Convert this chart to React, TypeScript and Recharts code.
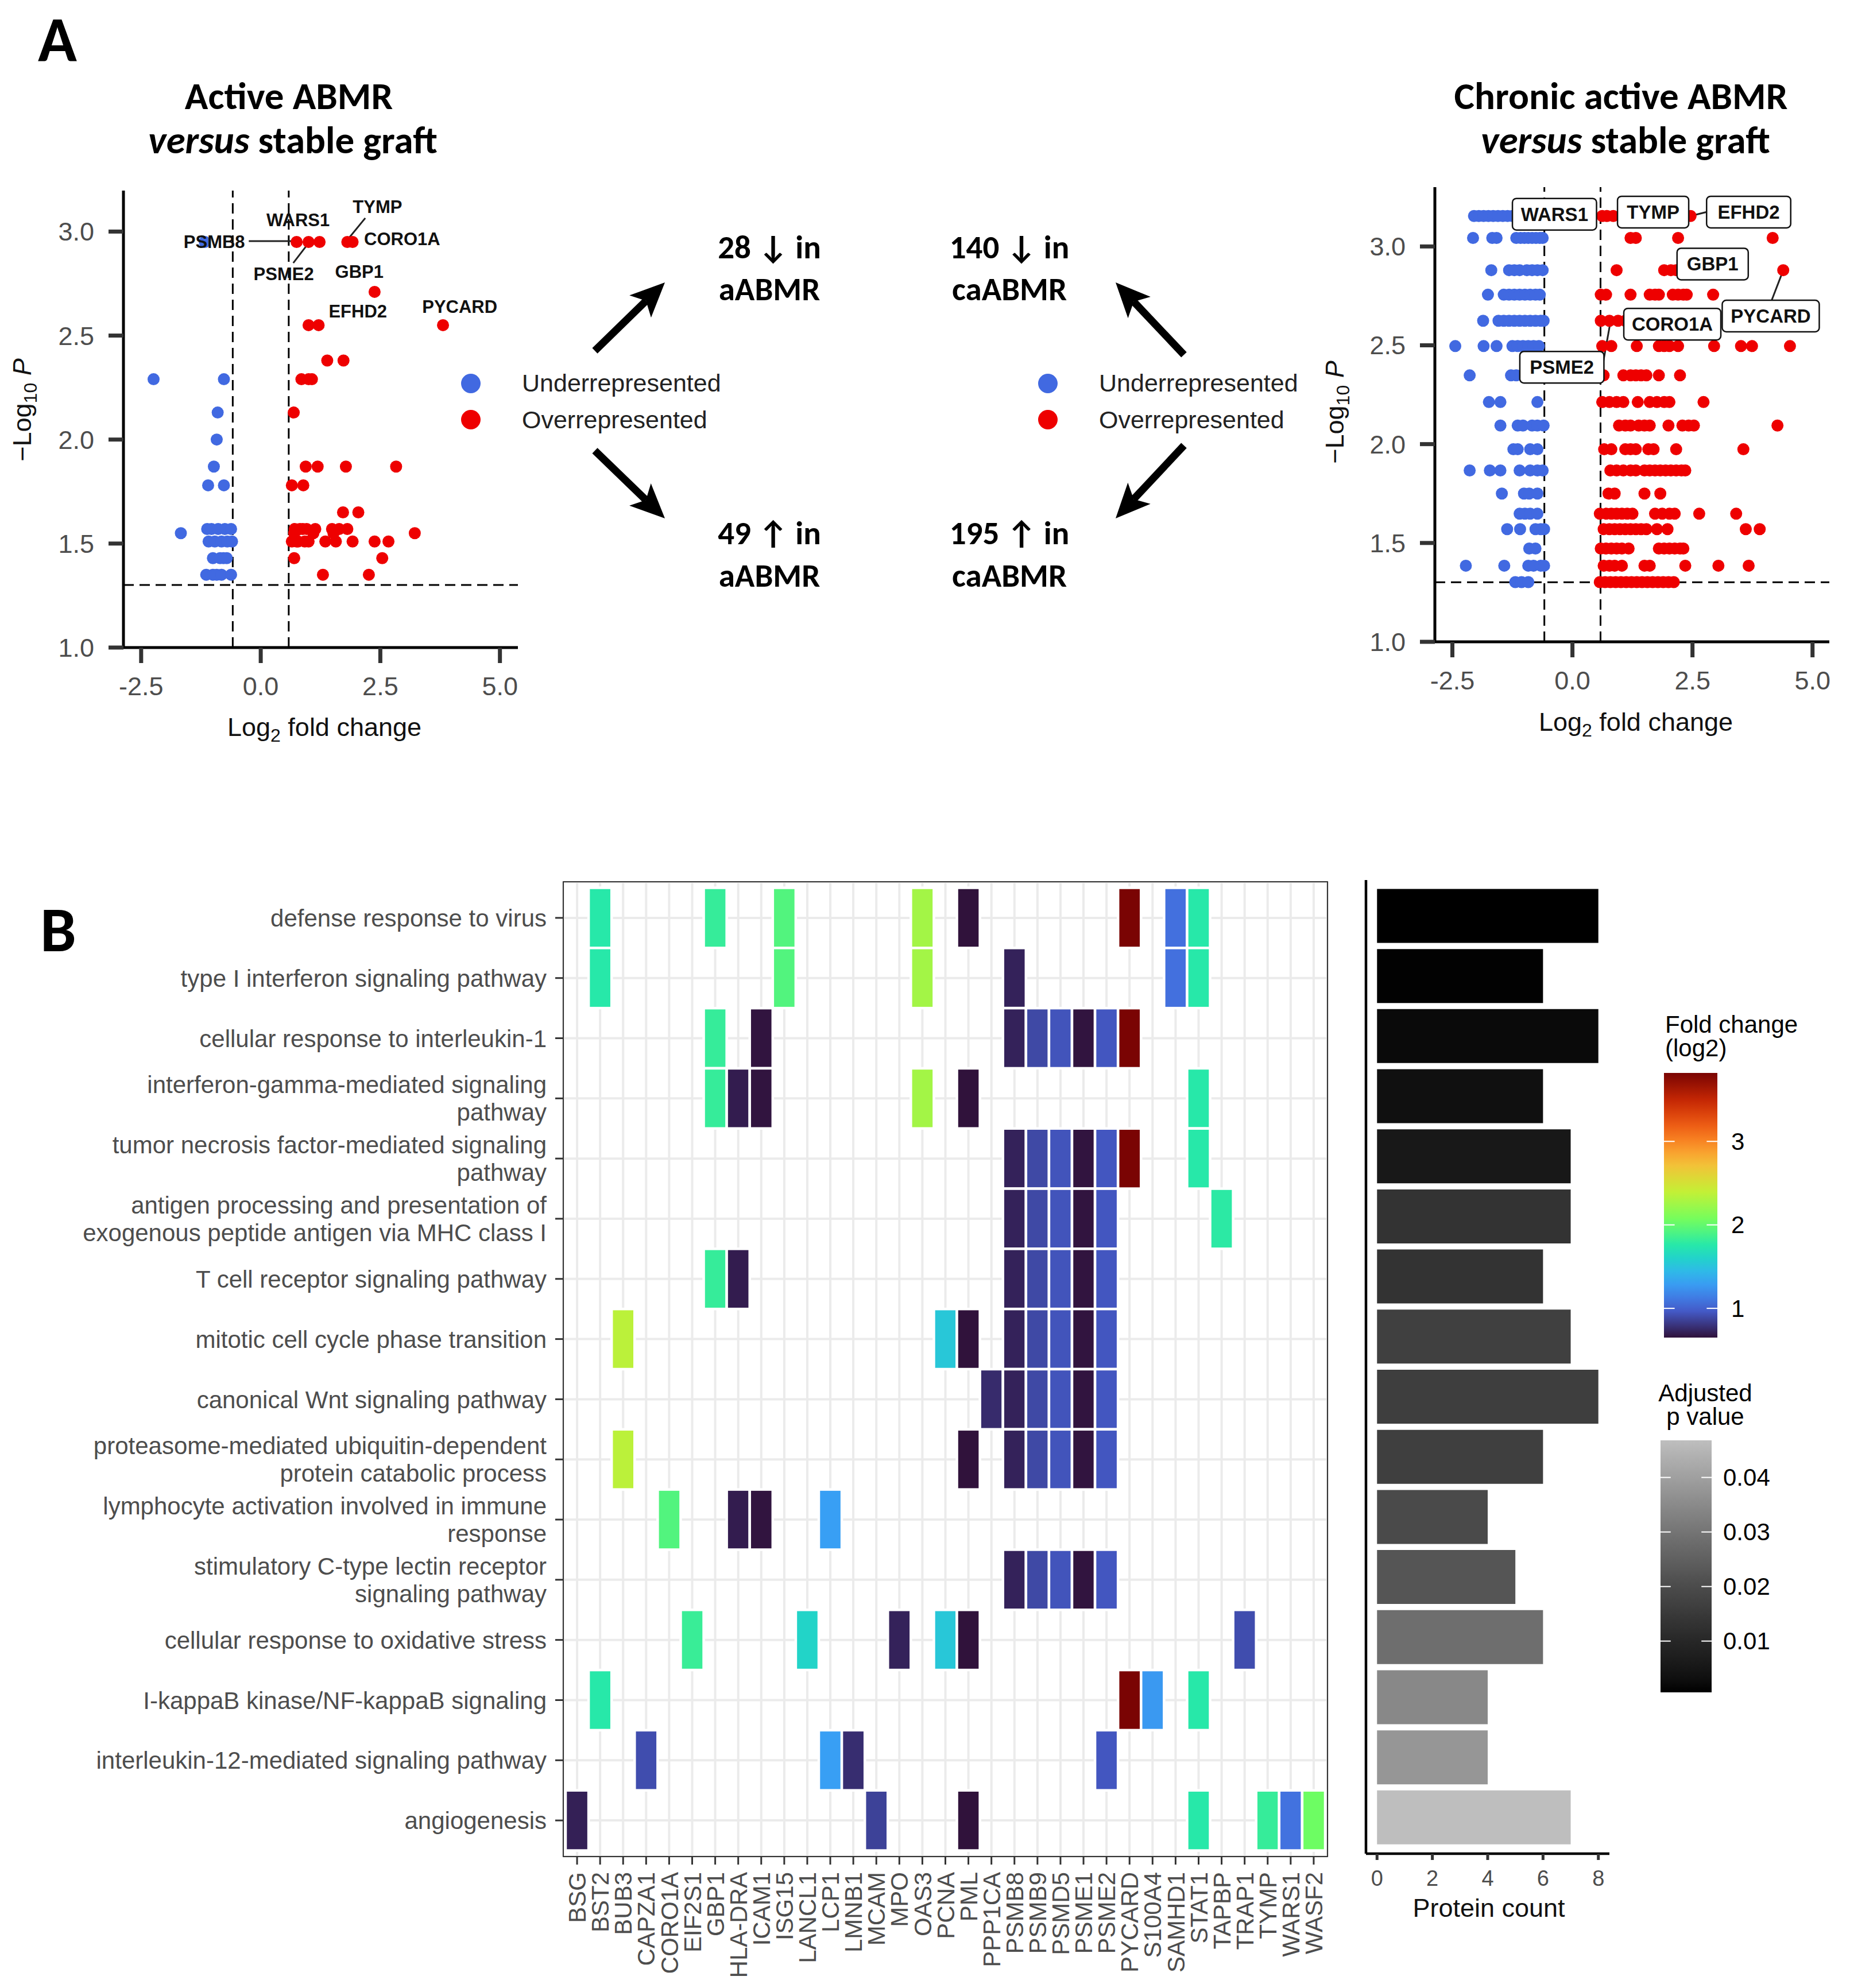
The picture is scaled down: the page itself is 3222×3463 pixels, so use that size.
import React from "react";
import {
  ScatterChart,
  Scatter,
  XAxis,
  YAxis,
  ReferenceLine,
  CartesianGrid,
  BarChart,
  Bar,
  Cell,
} from "recharts";

const SANS = "'Liberation Sans', Arial, Helvetica, sans-serif";
const HEAD = "Carlito, Lato, 'Open Sans', sans-serif";
const BLUE = "#4169E1";
const RED = "#EE0000";

// ---------- Panel A, left: active ABMR versus stable graft ----------
// [log2 fold change, -log10 P]
const AABMR_UNDER: [number, number][] = [
  [-1.17, 2.95], [-2.24, 2.29], [-0.77, 2.29], [-0.9, 2.13], [-0.92, 2.0],
  [-0.98, 1.87], [-1.1, 1.78], [-0.77, 1.78], [-1.67, 1.55], [-1.12, 1.57],
  [-1.03, 1.57], [-0.89, 1.57], [-0.75, 1.57], [-0.62, 1.57], [-1.09, 1.51],
  [-0.96, 1.51], [-0.82, 1.51], [-0.7, 1.51], [-0.6, 1.51], [-1.0, 1.43],
  [-0.85, 1.43], [-0.78, 1.43], [-0.71, 1.43], [-1.14, 1.35], [-1.0, 1.35],
  [-0.92, 1.35], [-0.82, 1.35], [-0.62, 1.35],
];
const AABMR_OVER: [number, number][] = [
  [0.75, 2.95], [1.0, 2.95], [1.23, 2.95], [1.81, 2.95], [1.92, 2.95],
  [2.38, 2.71], [1.0, 2.55], [1.21, 2.55], [3.81, 2.55], [1.39, 2.38],
  [1.73, 2.38], [0.85, 2.29], [1.0, 2.29], [1.07, 2.29], [0.69, 2.13],
  [0.94, 1.87], [1.19, 1.87], [1.78, 1.87], [2.83, 1.87], [0.65, 1.78],
  [0.89, 1.78], [1.72, 1.65], [2.04, 1.65], [3.22, 1.55], [0.71, 1.57],
  [0.82, 1.57], [0.88, 1.57], [0.96, 1.57], [1.14, 1.57], [1.49, 1.57],
  [1.64, 1.57], [1.81, 1.57], [0.7, 1.55], [1.1, 1.55], [1.52, 1.55],
  [0.65, 1.51], [0.75, 1.51], [0.78, 1.51], [0.92, 1.51], [1.0, 1.51],
  [1.35, 1.51], [1.57, 1.51], [1.92, 1.51], [2.38, 1.51], [2.67, 1.51],
  [0.7, 1.43], [2.54, 1.43], [1.3, 1.35], [2.26, 1.35],
];
const AABMR_LABELS = [
  { gene: "WARS1", x: 0.78, y: 3.056, anchor: "middle" },
  { gene: "TYMP", x: 2.44, y: 3.118, anchor: "middle" },
  { gene: "PSMB8", x: -0.33, y: 2.95, anchor: "end" },
  { gene: "CORO1A", x: 2.16, y: 2.963, anchor: "start" },
  { gene: "PSME2", x: 0.48, y: 2.796, anchor: "middle" },
  { gene: "GBP1", x: 2.06, y: 2.806, anchor: "middle" },
  { gene: "EFHD2", x: 2.03, y: 2.616, anchor: "middle" },
  { gene: "PYCARD", x: 4.16, y: 2.637, anchor: "middle" },
];
const AABMR_LEADERS: [number, number, number, number][] = [
  [-0.25, 2.954, 0.69, 2.954],
  [2.185, 3.065, 1.83, 2.965],
  [0.68, 2.849, 1.0, 2.945],
];

// ---------- Panel A, right: chronic active ABMR versus stable graft ----------
// rows of [-log10 P, log2 fold changes]
const CAABMR_UNDER_ROWS: [number, number[]][] = [
  [3.154, [-2.05, -1.95, -1.85, -1.75, -1.65, -1.55, -1.45, -1.35, -1.25, -1.15, -1.05, -0.95, -0.85, -0.75, -0.65]],
  [3.043, [-2.07, -1.67, -1.58, -1.17, -1.08, -1.0, -0.92, -0.84, -0.76, -0.68, -0.62]],
  [2.88, [-1.69, -1.32, -1.21, -1.1, -0.95, -0.84, -0.73, -0.62]],
  [2.756, [-1.76, -1.43, -1.32, -1.21, -1.1, -0.99, -0.88, -0.77, -0.68]],
  [2.624, [-1.86, -1.54, -1.43, -1.32, -1.21, -1.1, -0.99, -0.88, -0.77, -0.66, -0.6]],
  [2.496, [-2.44, -1.85, -1.58, -1.25, -1.14, -1.03, -0.92, -0.81, -0.7]],
  [2.348, [-2.14, -1.28, -1.17, -1.0, -0.8]],
  [2.213, [-1.74, -1.5, -0.73]],
  [2.094, [-1.5, -1.14, -1.03, -0.84, -0.73, -0.6]],
  [1.974, [-1.23, -1.14, -0.88, -0.73]],
  [1.867, [-2.14, -1.72, -1.5, -1.1, -0.88, -0.73, -0.62]],
  [1.75, [-1.47, -1.01, -0.9, -0.73]],
  [1.648, [-1.1, -0.99, -0.88, -0.73]],
  [1.57, [-1.36, -1.09, -0.77, -0.66, -0.59]],
  [1.472, [-0.9, -0.77]],
  [1.385, [-2.22, -1.42, -0.92, -0.81, -0.66, -0.59]],
  [1.302, [-1.19, -1.06, -0.92]],
];
const CAABMR_OVER_ROWS: [number, number[]][] = [
  [3.154, [0.62, 0.72, 0.85, 1.0, 1.2, 1.45, 1.7, 1.95, 2.2, 2.46]],
  [3.043, [1.21, 1.32, 2.2, 4.17]],
  [2.88, [0.92, 1.91, 2.05, 2.16, 4.39]],
  [2.756, [0.59, 0.7, 1.21, 1.61, 1.72, 1.8, 2.09, 2.2, 2.31, 2.38, 2.93]],
  [2.624, [0.59, 0.77, 0.95, 1.1, 1.3, 1.5, 1.7, 1.9, 2.1]],
  [2.496, [0.62, 0.81, 1.34, 1.8, 1.91, 2.02, 2.2, 2.95, 3.51, 3.74, 4.53]],
  [2.348, [0.65, 1.06, 1.21, 1.32, 1.43, 1.54, 1.8, 2.24]],
  [2.213, [0.62, 0.77, 0.92, 1.06, 1.36, 1.61, 1.76, 1.91, 2.02, 2.73]],
  [2.094, [0.97, 1.1, 1.21, 1.38, 1.5, 1.61, 2.0, 2.29, 2.42, 2.53, 4.27]],
  [1.974, [0.66, 0.81, 1.1, 1.21, 1.32, 1.58, 1.69, 2.16, 3.56]],
  [1.867, [0.79, 0.92, 1.06, 1.21, 1.32, 1.5, 1.61, 1.72, 1.83, 1.94, 2.05, 2.16, 2.27, 2.35]],
  [1.75, [0.75, 0.88, 1.5, 1.83]],
  [1.648, [0.57, 0.7, 0.81, 0.92, 1.03, 1.14, 1.25, 1.72, 1.87, 2.02, 2.13, 2.64, 3.41]],
  [1.57, [0.65, 0.77, 0.88, 0.99, 1.1, 1.21, 1.32, 1.43, 1.54, 1.76, 1.98, 3.61, 3.9]],
  [1.472, [0.59, 0.7, 0.81, 0.92, 1.03, 1.17, 1.8, 1.91, 2.02, 2.13, 2.24, 2.31]],
  [1.385, [0.65, 0.77, 0.88, 1.03, 1.5, 1.61, 2.35, 3.04, 3.67]],
  [1.302, [0.57, 0.68, 0.79, 0.9, 1.01, 1.12, 1.23, 1.34, 1.45, 1.56, 1.67, 1.78, 1.89, 2.0, 2.11]],
];
const CAABMR_LABELS = [
  { gene: "WARS1", x: -0.374, y: 3.163 },
  { gene: "TYMP", x: 1.68, y: 3.174 },
  { gene: "EFHD2", x: 3.67, y: 3.174 },
  { gene: "GBP1", x: 2.92, y: 2.911 },
  { gene: "PYCARD", x: 4.13, y: 2.648 },
  { gene: "CORO1A", x: 2.08, y: 2.607 },
  { gene: "PSME2", x: -0.22, y: 2.389 },
];
const CAABMR_LEADERS: [number, number, number, number][] = [
  [0.51, 3.157, 0.68, 3.154],
  [0.94, 3.157, 0.6, 3.154],
  [2.82, 3.176, 2.46, 3.154],
  [4.15, 2.728, 4.37, 2.867],
  [0.64, 2.413, 0.79, 2.617],
];

const FC_CUTOFF = 0.585;
const P_CUTOFF = 1.301;
const VOLCANO_X_TICKS = [-2.5, 0, 2.5, 5];
const VOLCANO_Y_TICKS = [1, 1.5, 2, 2.5, 3];

// ---------- Panel B ----------
const PATHWAYS = [
  "defense response to virus",
  "type I interferon signaling pathway",
  "cellular response to interleukin-1",
  "interferon-gamma-mediated signaling\npathway",
  "tumor necrosis factor-mediated signaling\npathway",
  "antigen processing and presentation of\nexogenous peptide antigen via MHC class I",
  "T cell receptor signaling pathway",
  "mitotic cell cycle phase transition",
  "canonical Wnt signaling pathway",
  "proteasome-mediated ubiquitin-dependent\nprotein catabolic process",
  "lymphocyte activation involved in immune\nresponse",
  "stimulatory C-type lectin receptor\nsignaling pathway",
  "cellular response to oxidative stress",
  "I-kappaB kinase/NF-kappaB signaling",
  "interleukin-12-mediated signaling pathway",
  "angiogenesis",
];
const GENES = [
  "BSG", "BST2", "BUB3", "CAPZA1", "CORO1A", "EIF2S1", "GBP1", "HLA-DRA", "ICAM1",
  "ISG15", "LANCL1", "LCP1", "LMNB1", "MCAM", "MPO", "OAS3", "PCNA", "PML", "PPP1CA",
  "PSMB8", "PSMB9", "PSMD5", "PSME1", "PSME2", "PYCARD", "S100A4", "SAMHD1", "STAT1",
  "TAPBP", "TRAP1", "TYMP", "WARS1", "WASF2",
];
const GENE_FC = [
  0.71, 1.76, 2.36, 0.91, 1.93, 1.83, 1.82, 0.695, 0.66,
  1.93, 1.61, 1.3, 0.77, 0.86, 0.72, 2.26, 1.53, 0.65, 0.76,
  0.72, 0.89, 0.94, 0.66, 0.95, 3.82, 1.27, 1.07, 1.76,
  1.78, 0.91, 1.82, 1.08, 2.04,
];
const PATHWAY_GENES = [
  ["BST2", "GBP1", "ISG15", "OAS3", "PML", "PYCARD", "SAMHD1", "STAT1"],
  ["BST2", "ISG15", "OAS3", "PSMB8", "SAMHD1", "STAT1"],
  ["GBP1", "ICAM1", "PSMB8", "PSMB9", "PSMD5", "PSME1", "PSME2", "PYCARD"],
  ["GBP1", "HLA-DRA", "ICAM1", "OAS3", "PML", "STAT1"],
  ["PSMB8", "PSMB9", "PSMD5", "PSME1", "PSME2", "PYCARD", "STAT1"],
  ["PSMB8", "PSMB9", "PSMD5", "PSME1", "PSME2", "TAPBP"],
  ["GBP1", "HLA-DRA", "PSMB8", "PSMB9", "PSMD5", "PSME1", "PSME2"],
  ["BUB3", "PCNA", "PML", "PSMB8", "PSMB9", "PSMD5", "PSME1", "PSME2"],
  ["PPP1CA", "PSMB8", "PSMB9", "PSMD5", "PSME1", "PSME2"],
  ["BUB3", "PML", "PSMB8", "PSMB9", "PSMD5", "PSME1", "PSME2"],
  ["CORO1A", "HLA-DRA", "ICAM1", "LCP1"],
  ["PSMB8", "PSMB9", "PSMD5", "PSME1", "PSME2"],
  ["EIF2S1", "LANCL1", "MPO", "PCNA", "PML", "TRAP1"],
  ["BST2", "PYCARD", "S100A4", "STAT1"],
  ["CAPZA1", "LCP1", "LMNB1", "PSME2"],
  ["BSG", "MCAM", "PML", "STAT1", "TYMP", "WARS1", "WASF2"],
];
const PROTEIN_COUNT = [8, 6, 8, 6, 7, 7, 6, 7, 8, 6, 4, 5, 6, 4, 4, 7];
const ADJ_P = [
  0.0006, 0.0009, 0.0023, 0.0033, 0.0056, 0.0134, 0.0134, 0.0169,
  0.0163, 0.0166, 0.0195, 0.0223, 0.0285, 0.0346, 0.0379, 0.0468,
];
const FC_LEGEND_TICKS = [1, 2, 3];
const P_LEGEND_TICKS = [0.01, 0.02, 0.03, 0.04];
const COUNT_TICKS = [0, 2, 4, 6, 8];

// ---------- colour scales ----------
const TURBO = [
  [48, 18, 59], [70, 98, 215], [54, 170, 249], [26, 228, 182], [114, 254, 94],
  [199, 239, 52], [250, 186, 57], [246, 107, 25], [203, 42, 4], [122, 4, 3],
];
function turbo(t: number) {
  const c = Math.max(0, Math.min(1, t)) * (TURBO.length - 1);
  const i = Math.min(TURBO.length - 2, Math.floor(c));
  const f = c - i;
  const m = (k: number) => Math.round(TURBO[i][k] + (TURBO[i + 1][k] - TURBO[i][k]) * f);
  return `rgb(${m(0)},${m(1)},${m(2)})`;
}
const FC_MIN = Math.min(...GENE_FC);
const FC_MAX = Math.max(...GENE_FC);
const fcColor = (v: number) => turbo((v - FC_MIN) / (FC_MAX - FC_MIN));

function grayToL(g: number) {
  const v = g / 255;
  const Y = v <= 0.04045 ? v / 12.92 : Math.pow((v + 0.055) / 1.055, 2.4);
  return Y > 0.008856 ? 116 * Math.cbrt(Y) - 16 : 903.3 * Y;
}
function lToGray(L: number) {
  const Y = L > 8 ? Math.pow((L + 16) / 116, 3) : L / 903.3;
  const v = Y <= 0.0031308 ? 12.92 * Y : 1.055 * Math.pow(Y, 1 / 2.4) - 0.055;
  const g = Math.round(255 * Math.max(0, Math.min(1, v)));
  return `rgb(${g},${g},${g})`;
}
const L_HIGH = grayToL(190);
const P_MIN = Math.min(...ADJ_P);
const P_MAX = Math.max(...ADJ_P);
const pColor = (p: number) => lToGray(((p - P_MIN) / (P_MAX - P_MIN)) * L_HIGH);

// ---------- shared pieces ----------
const dot = (fill: string) => (p: any) => <circle cx={p.cx} cy={p.cy} r={10.5} fill={fill} />;

function PlainLabel(p: any) {
  const d = p.payload;
  return (
    <text x={p.cx} y={p.cy} textAnchor={d.anchor} dominantBaseline="central" fontFamily={SANS} fontWeight={700} fontSize={31} fill="#111">
      {d.gene}
    </text>
  );
}

function BoxLabel(p: any) {
  const d = p.payload;
  const w = d.gene.length * 22.5 + 34;
  const h = 55;
  return (
    <g>
      <rect x={p.cx - w / 2} y={p.cy - h / 2} width={w} height={h} rx={7} fill="#fff" stroke="#111" strokeWidth={2.5} />
      <text x={p.cx} y={p.cy} textAnchor="middle" dominantBaseline="central" fontFamily={SANS} fontWeight={700} fontSize={33} fill="#111">
        {d.gene}
      </text>
    </g>
  );
}

type Pt = { x: number; y: number };

function Volcano(props: {
  under: Pt[];
  over: Pt[];
  labels: any[];
  leaders: [number, number, number, number][];
  boxed: boolean;
  xDomain: [number, number];
  yDomain: [number, number];
  plotH: number;
}) {
  const { under, over, labels, leaders, boxed, xDomain, yDomain, plotH } = props;
  const dash = { stroke: "#000", strokeWidth: 3, strokeDasharray: "18 10" };
  return (
    <ScatterChart width={912} height={32 + plotH + 100} margin={{ top: 32, right: 10, bottom: 0, left: 0 }}>
      <XAxis
        type="number"
        dataKey="x"
        domain={xDomain}
        allowDataOverflow
        ticks={VOLCANO_X_TICKS}
        interval={0}
        tickFormatter={(v: number) => v.toFixed(1)}
        height={100}
        tickSize={27}
        tickMargin={24}
        axisLine={{ stroke: "#000", strokeWidth: 5 }}
        tickLine={{ stroke: "#333", strokeWidth: 7 }}
        tick={{ fill: "#4d4d4d", fontSize: 45, fontFamily: SANS }}
      />
      <YAxis
        type="number"
        dataKey="y"
        domain={yDomain}
        allowDataOverflow
        ticks={VOLCANO_Y_TICKS}
        interval={0}
        tickFormatter={(v: number) => v.toFixed(1)}
        width={215}
        tickSize={26}
        tickMargin={25}
        axisLine={{ stroke: "#000", strokeWidth: 5 }}
        tickLine={{ stroke: "#333", strokeWidth: 7 }}
        tick={{ fill: "#4d4d4d", fontSize: 45, fontFamily: SANS }}
      />
      <ReferenceLine x={-FC_CUTOFF} {...dash} />
      <ReferenceLine x={FC_CUTOFF} {...dash} />
      <ReferenceLine y={P_CUTOFF} {...dash} />
      <Scatter data={under} shape={dot(BLUE)} isAnimationActive={false} />
      <Scatter data={over} shape={dot(RED)} isAnimationActive={false} />
      {leaders.map((s, i) => (
        <ReferenceLine
          key={i}
          segment={[{ x: s[0], y: s[1] }, { x: s[2], y: s[3] }]}
          stroke="#222"
          strokeWidth={3}
        />
      ))}
      <Scatter data={labels} shape={boxed ? BoxLabel : PlainLabel} isAnimationActive={false} />
    </ScatterChart>
  );
}

// heatmap geometry (plot area 1331 x 1698, ggplot-style 0.6 expansion)
const HM_W = 1331;
const HM_H = 1698;
const CELL_W = HM_W / (GENES.length + 0.2);
const CELL_H = HM_H / (PATHWAYS.length + 0.2);

function Tile(p: any) {
  return (
    <rect
      x={p.cx - CELL_W / 2}
      y={p.cy - CELL_H / 2}
      width={CELL_W}
      height={CELL_H}
      fill={fcColor(p.payload.fc)}
      stroke="#fff"
      strokeWidth={4.5}
    />
  );
}

function PathwayTick(p: any) {
  const lines = PATHWAYS[p.payload.value - 1].split("\n");
  const lh = 48;
  const y0 = p.y - ((lines.length - 1) * lh) / 2;
  return (
    <text textAnchor="end" fontFamily={SANS} fontSize={42} fill="#4d4d4d">
      {lines.map((l, i) => (
        <tspan key={i} x={p.x} y={y0 + i * lh} dy="0.36em">
          {l}
        </tspan>
      ))}
    </text>
  );
}

function GeneTick(p: any) {
  return (
    <text transform={`translate(${p.x},${p.y}) rotate(-90)`} textAnchor="end" dy="0.36em" fontFamily={SANS} fontSize={42} fill="#4d4d4d">
      {GENES[p.payload.value - 1]}
    </text>
  );
}

function Arrow({ x1, y1, x2, y2 }: { x1: number; y1: number; x2: number; y2: number }) {
  const len = Math.hypot(x2 - x1, y2 - y1);
  const ux = (x2 - x1) / len;
  const uy = (y2 - y1) / len;
  const hl = 60;
  const hw = 27;
  const bx = x2 - ux * hl;
  const by = y2 - uy * hl;
  const nx = bx + ux * 14;
  const ny = by + uy * 14;
  return (
    <g>
      <line x1={x1} y1={y1} x2={nx} y2={ny} stroke="#000" strokeWidth={13} />
      <polygon points={`${x2},${y2} ${bx - uy * hw},${by + ux * hw} ${nx},${ny} ${bx + uy * hw},${by - ux * hw}`} fill="#000" />
    </g>
  );
}

export default function App() {
  const aUnder = AABMR_UNDER.map(([x, y]) => ({ x, y }));
  const aOver = AABMR_OVER.map(([x, y]) => ({ x, y }));
  const caUnder = CAABMR_UNDER_ROWS.flatMap(([y, xs]) => xs.map((x) => ({ x, y })));
  const caOver = CAABMR_OVER_ROWS.flatMap(([y, xs]) => xs.map((x) => ({ x, y })));

  const tiles = PATHWAY_GENES.flatMap((genes, r) =>
    genes.map((g) => {
      const c = GENES.indexOf(g);
      return { row: r + 1, col: c + 1, fc: GENE_FC[c] };
    })
  );
  const barData = PATHWAYS.map((name, i) => ({ name, count: PROTEIN_COUNT[i], p: ADJ_P[i] }));

  // legend colour bars
  const fcBar = { x: 2898, y: 1869, w: 93, h: 461 };
  const pBar = { x: 2892, y: 2509, w: 89, h: 439 };
  const fcY = (v: number) => fcBar.y + fcBar.h * (1 - (v - FC_MIN) / (FC_MAX - FC_MIN));
  const pY = (v: number) => pBar.y + pBar.h * (1 - (v - P_MIN) / (P_MAX - P_MIN));
  const steps = Array.from({ length: 21 }, (_, i) => i / 20);

  const headText = { fontFamily: HEAD, fontWeight: 700, fill: "#000" } as const;
  const legText = { fontFamily: SANS, fontSize: 43, fill: "#222" } as const;

  return (
    <div style={{ position: "absolute", left: 0, top: 0, width: 3222, height: 3463, background: "#fff", overflow: "hidden" }}>
      <div style={{ position: "absolute", left: 0, top: 300 }}>
        <Volcano
          under={aUnder}
          over={aOver}
          labels={AABMR_LABELS}
          leaders={AABMR_LEADERS}
          boxed={false}
          xDomain={[-2.87, 5.376]}
          yDomain={[1, 3.197]}
          plotH={796}
        />
      </div>
      <div style={{ position: "absolute", left: 2284, top: 294 }}>
        <Volcano
          under={caUnder}
          over={caOver}
          labels={CAABMR_LABELS}
          leaders={CAABMR_LEADERS}
          boxed={true}
          xDomain={[-2.865, 5.35]}
          yDomain={[1, 3.3]}
          plotH={792}
        />
      </div>

      <div style={{ position: "absolute", left: 0, top: 1536 }}>
        <ScatterChart width={981 + HM_W + 10} height={HM_H + 227} margin={{ top: 0, right: 10, bottom: 0, left: 0 }}>
          <CartesianGrid stroke="#ebebeb" strokeWidth={4} />
          <XAxis
            type="number"
            dataKey="col"
            domain={[0.4, GENES.length + 0.6]}
            allowDataOverflow
            ticks={GENES.map((_, i) => i + 1)}
            interval={0}
            tick={GeneTick}
            height={227}
            tickSize={14}
            tickMargin={13}
            axisLine={false}
            tickLine={{ stroke: "#333", strokeWidth: 3 }}
          />
          <YAxis
            type="number"
            dataKey="row"
            domain={[0.4, PATHWAYS.length + 0.6]}
            allowDataOverflow
            reversed
            ticks={PATHWAYS.map((_, i) => i + 1)}
            interval={0}
            tick={PathwayTick}
            width={981}
            tickSize={14}
            tickMargin={15}
            axisLine={false}
            tickLine={{ stroke: "#333", strokeWidth: 3 }}
          />
          <Scatter data={tiles} shape={Tile} isAnimationActive={false} />
        </ScatterChart>
      </div>
      <div style={{ position: "absolute", left: 980, top: 1535, width: HM_W + 2, height: HM_H + 2, border: "2px solid #333", boxSizing: "border-box", pointerEvents: "none" }} />

      <div style={{ position: "absolute", left: 2349, top: 1528 }}>
        <BarChart layout="vertical" width={464} height={5 + 1696 + 120} data={barData} margin={{ top: 5, right: 10, bottom: 0, left: 0 }}>
          <XAxis
            type="number"
            domain={[-0.4, 8.4]}
            allowDataOverflow
            ticks={COUNT_TICKS}
            interval={0}
            height={120}
            tickSize={11}
            tickMargin={18}
            axisLine={{ stroke: "#000", strokeWidth: 4.5 }}
            tickLine={{ stroke: "#333", strokeWidth: 5 }}
            tick={{ fill: "#4d4d4d", fontSize: 38, fontFamily: SANS }}
          />
          <YAxis
            type="category"
            dataKey="name"
            width={30}
            tick={false}
            tickSize={12}
            padding={{ top: 1696 / 162, bottom: 1696 / 162 }}
            axisLine={{ stroke: "#000", strokeWidth: 4.5 }}
            tickLine={{ stroke: "#333", strokeWidth: 3 }}
          />
          <Bar dataKey="count" barSize={94} isAnimationActive={false}>
            {barData.map((d, i) => (
              <Cell key={i} fill={pColor(d.p)} />
            ))}
          </Bar>
        </BarChart>
      </div>

      <svg width={3222} height={3463} style={{ position: "absolute", left: 0, top: 0, pointerEvents: "none" }}>
        <defs>
          <linearGradient id="fcGrad" x1="0" y1="0" x2="0" y2="1">
            {steps.map((s) => (
              <stop key={s} offset={s} stopColor={turbo(1 - s)} />
            ))}
          </linearGradient>
          <linearGradient id="pGrad" x1="0" y1="0" x2="0" y2="1">
            {steps.map((s) => (
              <stop key={s} offset={s} stopColor={lToGray((1 - s) * L_HIGH)} />
            ))}
          </linearGradient>
        </defs>

        {/* panel letters and titles */}
        <text x={66} y={106} fontSize={112} {...headText}>A</text>
        <text x={70} y={1657} fontSize={112} {...headText}>B</text>
        <text x={503} y={190} fontSize={67} textAnchor="middle" {...headText}>Active ABMR</text>
        <text x={510} y={267} fontSize={67} textAnchor="middle" {...headText}>
          <tspan fontStyle="italic">versus</tspan> stable graft
        </text>
        <text x={2823} y={190} fontSize={67} textAnchor="middle" {...headText}>Chronic active ABMR</text>
        <text x={2831} y={267} fontSize={67} textAnchor="middle" {...headText}>
          <tspan fontStyle="italic">versus</tspan> stable graft
        </text>

        {/* volcano axis titles */}
        {[
          { tx: 565, ty: 1282, rx: 54, ry: 714 },
          { tx: 2849, ty: 1273, rx: 2340, ry: 718 },
        ].map((a, i) => (
          <g key={i} fontFamily={SANS} fontSize={45} fill="#111">
            <text x={a.tx} y={a.ty} textAnchor="middle">
              Log<tspan dy={10} fontSize={32}>2</tspan>
              <tspan dy={-10}> fold change</tspan>
            </text>
            <text transform={`translate(${a.rx},${a.ry}) rotate(-90)`} textAnchor="middle">
              −Log<tspan dy={10} fontSize={32}>10</tspan>
              <tspan dy={-10}> </tspan>
              <tspan fontStyle="italic">P</tspan>
            </text>
          </g>
        ))}

        {/* volcano legends */}
        {[820, 1825].map((cx) => (
          <g key={cx}>
            <circle cx={cx} cy={668} r={17} fill={BLUE} />
            <circle cx={cx} cy={731} r={17} fill={RED} />
            <text x={cx + 89} y={682} {...legText}>Underrepresented</text>
            <text x={cx + 89} y={746} {...legText}>Overrepresented</text>
          </g>
        ))}

        {/* counts and arrows */}
        <g fontSize={57} textAnchor="middle" {...headText}>
          <text x={1340} y={450}>28 ↓ in</text>
          <text x={1340} y={523}>aABMR</text>
          <text x={1340} y={948}>49 ↑ in</text>
          <text x={1340} y={1022}>aABMR</text>
          <text x={1758} y={450}>140 ↓ in</text>
          <text x={1758} y={523}>caABMR</text>
          <text x={1758} y={948}>195 ↑ in</text>
          <text x={1758} y={1022}>caABMR</text>
        </g>
        <Arrow x1={1036} y1={611} x2={1158} y2={492} />
        <Arrow x1={1036} y1={785} x2={1158} y2={903} />
        <Arrow x1={2062} y1={618} x2={1943} y2={492} />
        <Arrow x1={2062} y1={776} x2={1943} y2={903} />

        {/* heatmap fold change legend */}
        <text x={2900} y={1799} {...legText} fontSize={42} fill="#000">Fold change</text>
        <text x={2900} y={1840} {...legText} fontSize={42} fill="#000">(log2)</text>
        <rect x={fcBar.x} y={fcBar.y} width={fcBar.w} height={fcBar.h} fill="url(#fcGrad)" />
        {FC_LEGEND_TICKS.map((v) => (
          <g key={v}>
            <line x1={fcBar.x} x2={fcBar.x + 18.6} y1={fcY(v)} y2={fcY(v)} stroke="#fff" strokeWidth={2} />
            <line x1={fcBar.x + fcBar.w - 18.6} x2={fcBar.x + fcBar.w} y1={fcY(v)} y2={fcY(v)} stroke="#fff" strokeWidth={2} />
            <text x={3015} y={fcY(v)} dominantBaseline="central" {...legText} fontSize={42} fill="#000">{v}</text>
          </g>
        ))}

        {/* adjusted p legend */}
        <text x={2970} y={2441} textAnchor="middle" {...legText} fontSize={42} fill="#000">Adjusted</text>
        <text x={2970} y={2482} textAnchor="middle" {...legText} fontSize={42} fill="#000">p value</text>
        <rect x={pBar.x} y={pBar.y} width={pBar.w} height={pBar.h} fill="url(#pGrad)" />
        {P_LEGEND_TICKS.map((v) => (
          <g key={v}>
            <line x1={pBar.x} x2={pBar.x + 17.8} y1={pY(v)} y2={pY(v)} stroke="#fff" strokeWidth={2} />
            <line x1={pBar.x + pBar.w - 17.8} x2={pBar.x + pBar.w} y1={pY(v)} y2={pY(v)} stroke="#fff" strokeWidth={2} />
            <text x={3001} y={pY(v)} dominantBaseline="central" {...legText} fontSize={42} fill="#000">{v.toFixed(2)}</text>
          </g>
        ))}

        <text x={2593} y={3339} textAnchor="middle" fontFamily={SANS} fontSize={45} fill="#111">Protein count</text>
      </svg>
    </div>
  );
}
